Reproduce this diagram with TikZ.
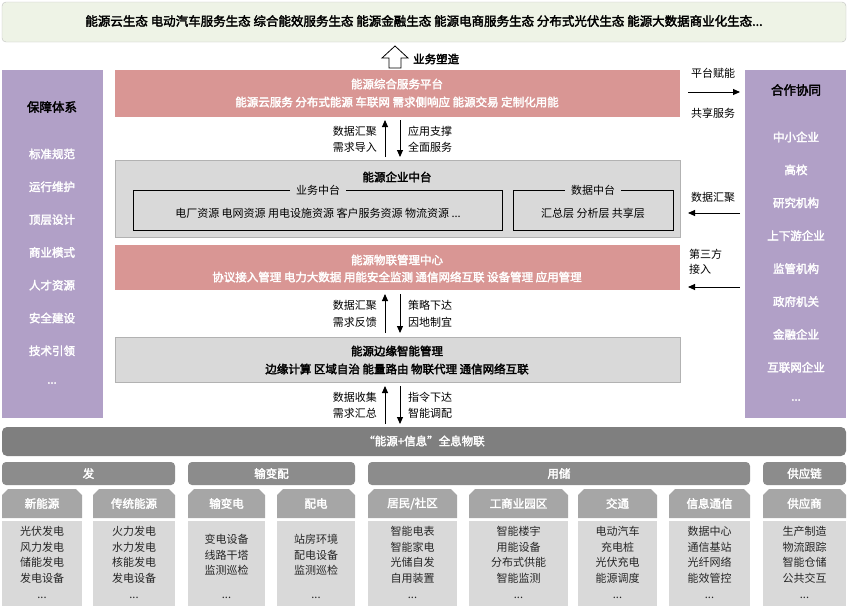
\documentclass[tikz,border=0pt]{standalone}
\usepackage{fontspec}
\setmainfont{Noto Sans CJK SC}[AutoFakeBold=2.5]
\usetikzlibrary{arrows.meta}
\definecolor{pinkc}{HTML}{D99694}
\definecolor{purp}{HTML}{B1A0C7}
\definecolor{lg}{HTML}{D9D9D9}
\definecolor{dg}{HTML}{7F7F7F}
\definecolor{mg}{HTML}{8C8C8C}
\definecolor{sg}{HTML}{A6A6A6}
\definecolor{topc}{HTML}{EEF3E6}
\tikzset{
 t/.style={inner sep=0pt,font=\fontsize{11}{13}\selectfont},
 tb/.style={inner sep=0pt,font=\bfseries\fontsize{11.5}{13}\selectfont},
 wb/.style={tb,text=white},
 arr/.style={-{Triangle[length=7pt,width=6pt]},line width=0.9pt},
 content/.style={inner sep=0pt,align=center,font=\fontsize{11}{15.5}\selectfont,text=black!85},
}
\begin{document}
\begin{tikzpicture}[x=1pt,y=-1pt]
\useasboundingbox (0,0) rectangle (848,614);
\draw[fill=topc,draw=black!25,rounded corners=4pt] (2,2) rectangle (846,42);
\node[tb,font=\bfseries\fontsize{12.5}{14}\selectfont] (eco) at (424,21) {能源云生态 电动汽车服务生态 综合能效服务生态 能源金融生态 能源电商服务生态 分布式光伏生态 能源大数据商业化生态...};
\draw[line width=0.8pt,fill=white] (389,68)--(389,58)--(382,58)--(395,46)--(408,58)--(401,58)--(401,68)--cycle;
\node[tb,anchor=west] (bs) at (413,59) {业务塑造};
\fill[purp] (2,70) rectangle (103,418);
\fill[purp] (745,70) rectangle (846,418);
\node[tb,font=\bfseries\fontsize{12.5}{14}\selectfont] (bz) at (52,107) {保障体系};
\foreach \s [count=\i] in {标准规范,运行维护,顶层设计,商业模式,人才资源,安全建设,技术引领}
  \node[wb] (L\i) at (52,{154+(\i-1)*32.8}) {\s};
\node[wb] (L8) at (52,383) {...};
\node[tb,font=\bfseries\fontsize{12.5}{14}\selectfont] (hz) at (796,90) {合作协同};
\foreach \s [count=\i] in {中小企业,高校,研究机构,上下游企业,监管机构,政府机关,金融企业,互联网企业}
  \node[wb] (R\i) at (796,{137+(\i-1)*32.9}) {\s};
\node[wb] (R9) at (796,400) {...};
\fill[pinkc] (115,70) rectangle (680,117);
\node[wb] (p1) at (397,84) {能源综合服务平台};
\node[wb] (p1s) at (397,102) {能源云服务 分布式能源 车联网 需求侧响应 能源交易 定制化用能};
\node[t] (r1a) at (713,73) {平台赋能};
\node[t] (r1b) at (713,113) {共享服务};
\coordinate (r1s) at (688,92); \coordinate (r1e) at (740,92);
\draw[arr] (r1s)--(r1e);
\coordinate (a1) at (385,157); \coordinate (a2) at (385,120);
\coordinate (b1) at (400,120); \coordinate (b2) at (400,157);
\draw[arr] (a1)--(a2); \draw[arr] (b1)--(b2);
\node[t,anchor=east] (l1a) at (377,131) {数据汇聚};
\node[t,anchor=east] (l1b) at (377,147) {需求导入};
\node[t,anchor=west] (l1c) at (408,131) {应用支撑};
\node[t,anchor=west] (l1d) at (408,147) {全面服务};
\draw[fill=lg,draw=black!30] (115,160) rectangle (680,237);
\node[tb] (zt) at (397,177) {能源企业中台};
\draw[line width=0.8pt] (133,190) rectangle (502,230);
\draw[line width=0.8pt] (513,190) rectangle (673,230);
\node[t,fill=lg,inner xsep=6pt] (yw) at (318,190) {业务中台};
\node[t,fill=lg,inner xsep=6pt] (sj) at (593,190) {数据中台};
\node[t] (ywc) at (318,213) {电厂资源 电网资源 用电设施资源 客户服务资源 物流资源 ...};
\node[t] (sjc) at (593,213) {汇总层 分析层 共享层};
\node[t] (r2) at (713,197) {数据汇聚};
\coordinate (r2s) at (740,213); \coordinate (r2e) at (688,213);
\draw[arr] (r2s)--(r2e);
\fill[pinkc] (115,245) rectangle (680,290);
\node[wb] (p2) at (397,260) {能源物联管理中心};
\node[wb] (p2s) at (397,277) {协议接入管理 电力大数据 用能安全监测 通信网络互联 设备管理 应用管理};
\node[t,anchor=west,align=left,font=\fontsize{11}{15}\selectfont] (r3) at (689,262) {第三方\\接入};
\coordinate (r3s) at (740,287); \coordinate (r3e) at (688,287);
\draw[arr] (r3s)--(r3e);
\coordinate (c1) at (385,333); \coordinate (c2) at (385,294);
\coordinate (d1) at (400,294); \coordinate (d2) at (400,333);
\draw[arr] (c1)--(c2); \draw[arr] (d1)--(d2);
\node[t,anchor=east] (l2a) at (377,305) {数据汇聚};
\node[t,anchor=east] (l2b) at (377,322) {需求反馈};
\node[t,anchor=west] (l2c) at (408,305) {策略下达};
\node[t,anchor=west] (l2d) at (408,322) {因地制宜};
\draw[fill=lg,draw=black!30] (115,337) rectangle (680,382);
\node[tb] (e1) at (397,351) {能源边缘智能管理};
\node[tb] (e1s) at (397,369) {边缘计算 区域自治 能量路由 物联代理 通信网络互联};
\coordinate (e1a) at (385,424); \coordinate (e1b) at (385,386);
\coordinate (f1) at (400,386); \coordinate (f2) at (400,424);
\draw[arr] (e1a)--(e1b); \draw[arr] (f1)--(f2);
\node[t,anchor=east] (l3a) at (377,397) {数据收集};
\node[t,anchor=east] (l3b) at (377,413) {需求汇总};
\node[t,anchor=west] (l3c) at (408,397) {指令下达};
\node[t,anchor=west] (l3d) at (408,413) {智能调配};
\fill[dg,rounded corners=5pt] (2,427) rectangle (846,456);
\node[wb] (bar) at (424,441) {“能源+信息”全息物联};
\foreach \a/\b/\s [count=\i] in {2/175/发,188/355/输变配,368/750/用储,763/846/供应链}{
  \fill[mg,rounded corners=4pt] (\a,462) rectangle (\b,485);
  \node[wb] (cat\i) at ({(\a+\b)/2},473.5) {\s};
}
\foreach \a/\b/\s [count=\i] in {2/82/新能源,93/175/传统能源,188/265/输变电,277/355/配电,368/457/{居民/社区},469/568/工商业园区,578/657/交通,669/750/信息通信,763/846/供应商}{
  \fill[sg] (\a,518) -- (\a,495) -- (\a+6,489) -- (\b-6,489) -- (\b,495) -- (\b,518) -- cycle;
  \node[wb] (sh\i) at ({(\a+\b)/2},503.5) {\s};
  \fill[lg] (\a,521) rectangle (\b,606);
  \node[content] (dd\i) at ({(\a+\b)/2},598) {{...}};
}
\foreach \a/\b/\c [count=\i] in {
 2/82/{光伏发电\\风力发电\\储能发电\\发电设备},
 93/175/{火力发电\\水力发电\\核能发电\\发电设备},
 368/457/{智能电表\\智能家电\\光储自发\\自用装置},
 469/568/{智能楼宇\\用能设备\\分布式供能\\智能监测},
 578/657/{电动汽车\\充电桩\\光伏充电\\能源调度},
 669/750/{数据中心\\通信基站\\光纤网络\\能效管控},
 763/846/{生产制造\\物流跟踪\\智能仓储\\公共交互}}{
  \node[content] (c4\i) at ({(\a+\b)/2},555) {\c};
}
\foreach \a/\b/\c [count=\i] in {188/265/{变电设备\\线路干塔\\监测巡检},277/355/{站房环境\\配电设备\\监测巡检}}{
  \node[content] (c3\i) at ({(\a+\b)/2},555) {\c};
}
\end{tikzpicture}
\end{document}
